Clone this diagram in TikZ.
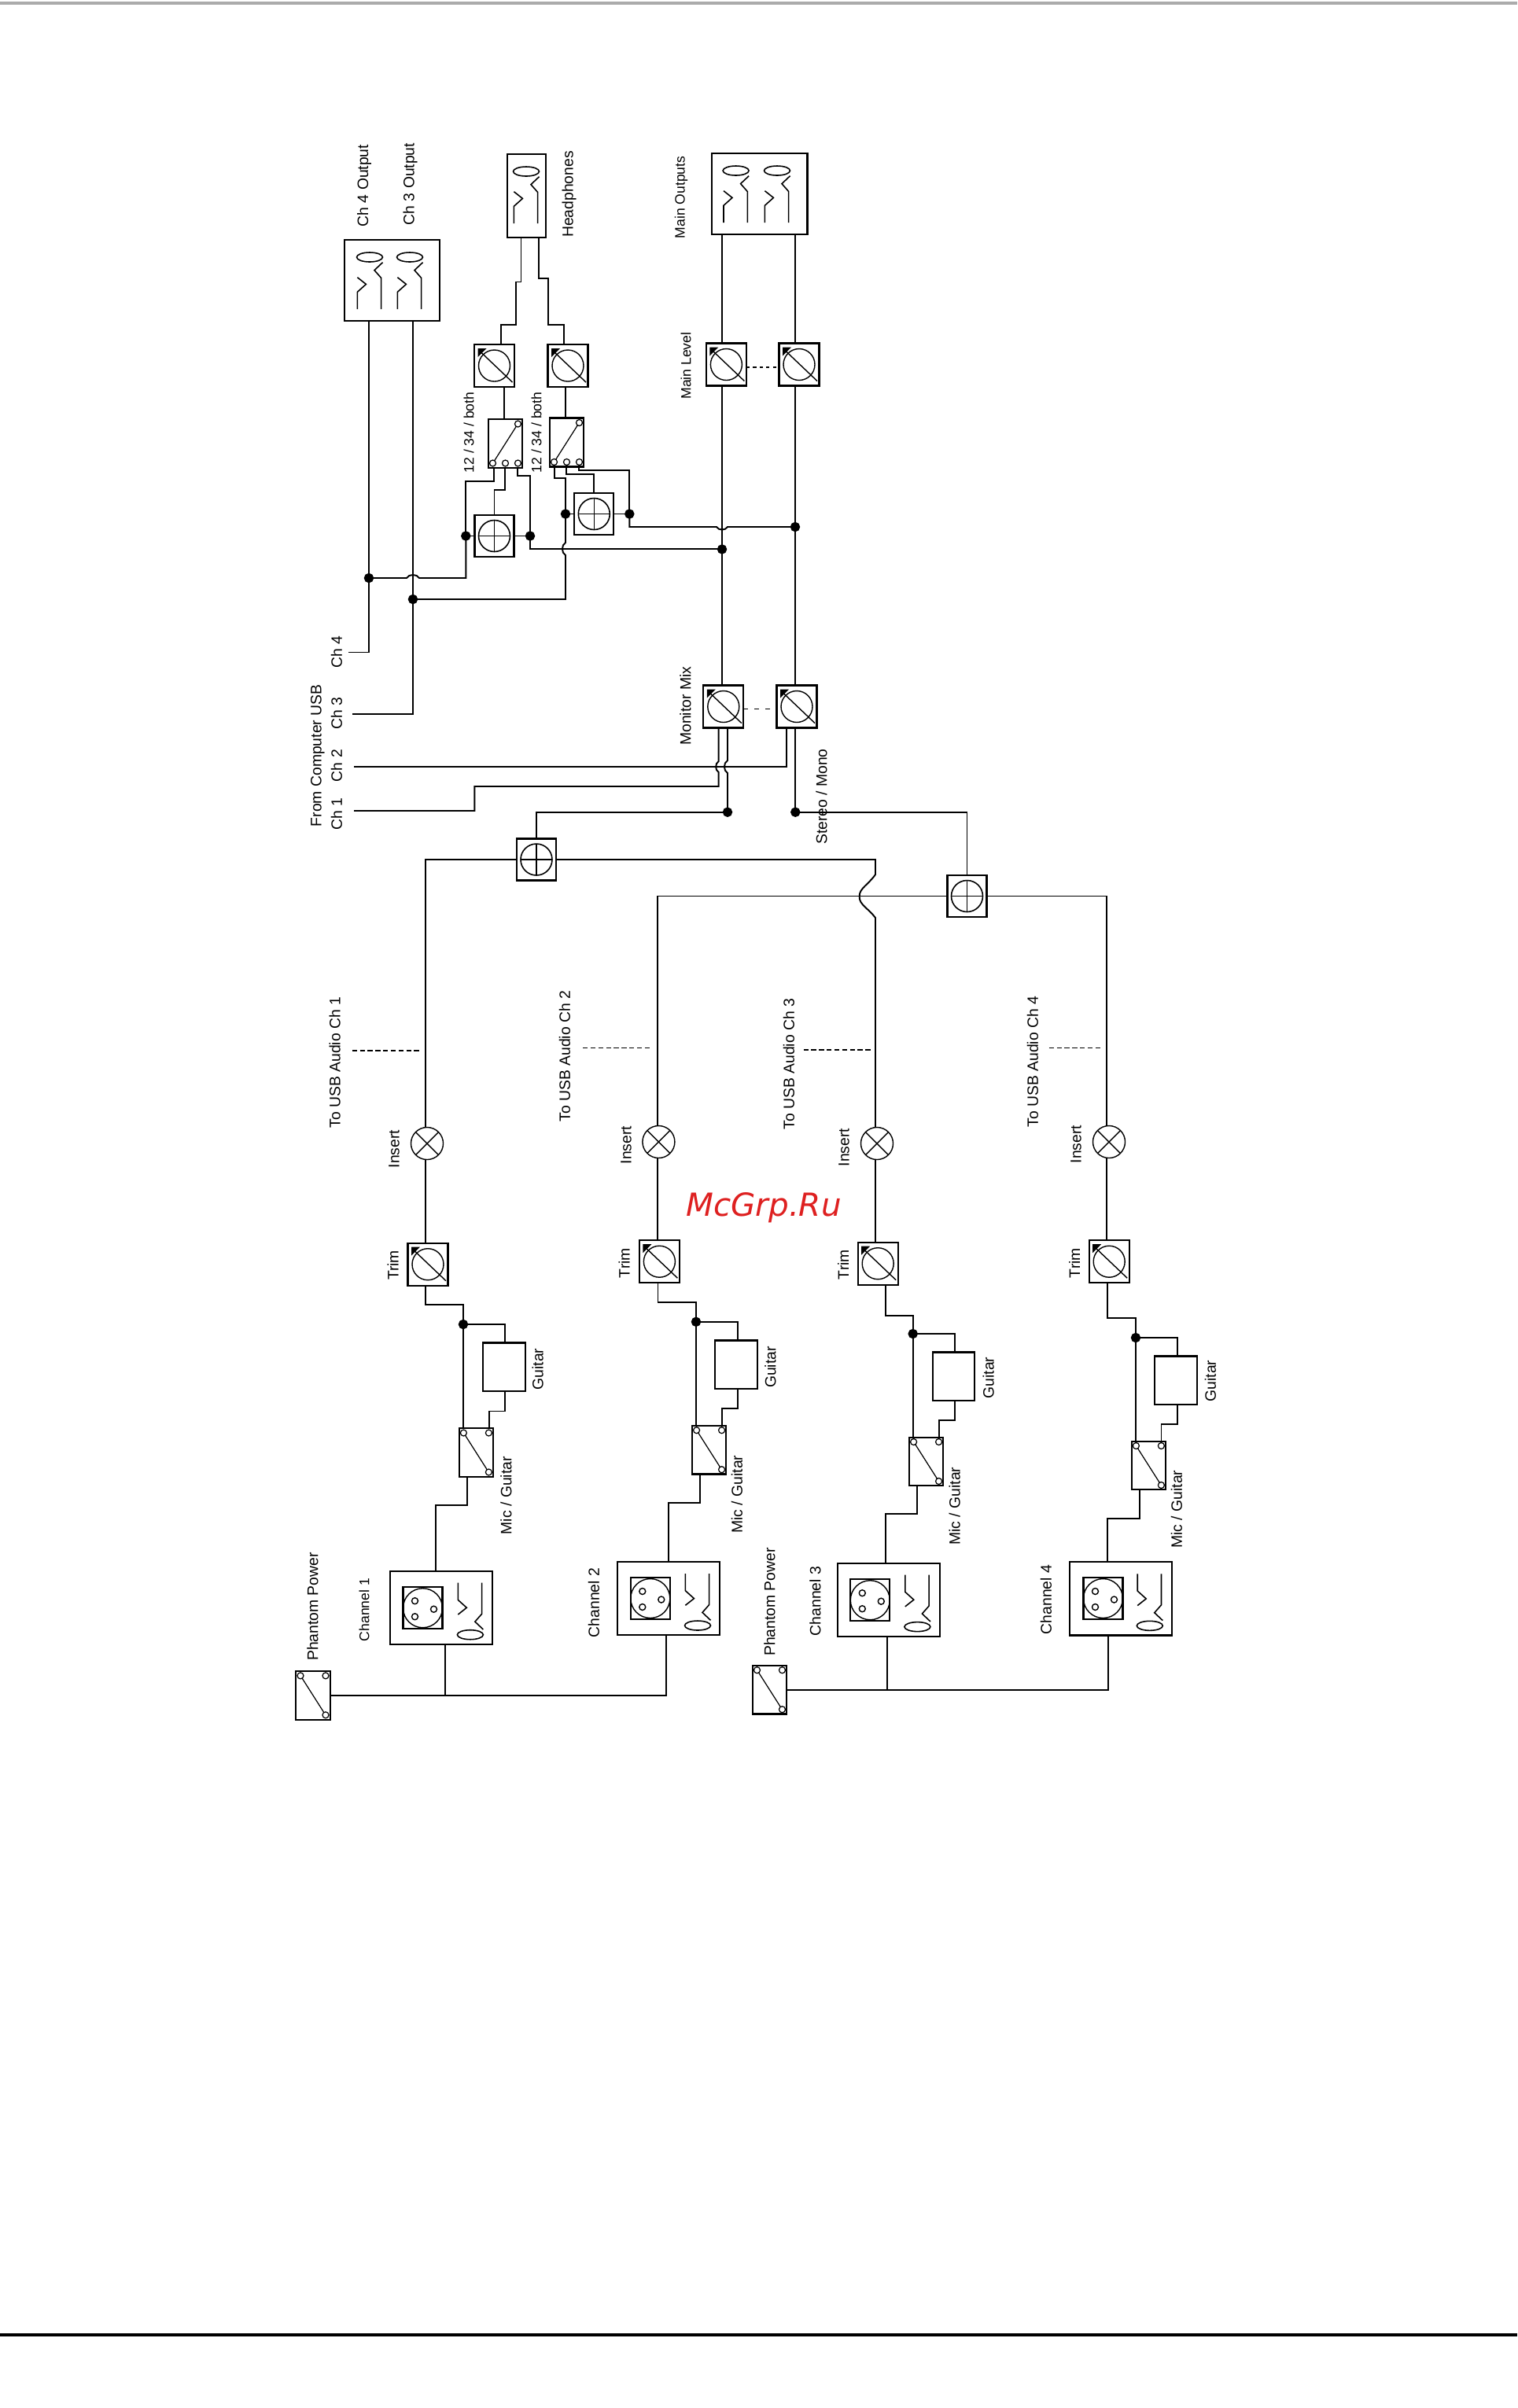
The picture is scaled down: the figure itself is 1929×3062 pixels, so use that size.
\documentclass[tikz,border=0pt]{standalone}
\usepackage{fontspec}
\setmainfont{Liberation Sans}
\newfontfamily\markfont{DejaVu Sans}
\usepackage{xcolor}
\usepackage{tikz}
\definecolor{markred}{HTML}{DE2020}
\tikzset{
  wire/.style={line width=.55pt},
  tap/.style={line width=.4pt, dash pattern=on 1.8pt off 1pt},
  gang/.style={line width=.5pt, dash pattern=on 1.2pt off 1.2pt},
  sparse/.style={line width=.35pt, dash pattern=on 1.5pt off 2.5pt},
  box/.style={draw, line width=.6pt, inner sep=0pt, outer sep=0pt},
  junction/.style={circle, fill=black, draw=black, inner sep=0pt, outer sep=0pt, minimum size=.11cm},
  lbl/.style={rotate=90, inner sep=0pt, font=\fontsize{5.5pt}{6pt}\selectfont},
  lblsm/.style={lbl, font=\fontsize{5pt}{6pt}\selectfont},
  knobbox/.style={box, minimum width=.51cm, minimum height=.54cm, path picture={
    \begin{scope}[shift={(path picture bounding box.center)}, line width=.4pt]
      \draw (0,0) circle[radius=20];
      \draw (-19,-19) -- (23,21);
      \fill (-21,-22) -- (-10,-22) -- (-21,-11) -- cycle;
    \end{scope}}},
  sumbox/.style={box, minimum width=.5cm, minimum height=.53cm, path picture={
    \begin{scope}[shift={(path picture bounding box.center)}, line width=.45pt]
      \draw (0,0) circle[radius=20];
      \draw (-20,0) -- (20,0) (0,-20) -- (0,20);
    \end{scope}}},
  swin/.style={box, minimum width=.436cm, minimum height=.615cm, path picture={
    \begin{scope}[shift={(path picture bounding box.center)}, line width=.35pt]
      \draw (-16,-25) circle[radius=4] (16,-25) circle[radius=4] (16,25) circle[radius=4];
      \draw (-14,-22) -- (14,22);
    \end{scope}}},
  swout/.style={box, minimum width=.436cm, minimum height=.62cm, path picture={
    \begin{scope}[shift={(path picture bounding box.center)}, line width=.35pt]
      \draw (-16,25) circle[radius=4] (0,25) circle[radius=4] (16,25) circle[radius=4] (16,-25) circle[radius=4];
      \draw (14,-22) -- (-14,22);
    \end{scope}}},
  xlr/.style={box, minimum width=.5cm, minimum height=.53cm, path picture={
    \begin{scope}[shift={(path picture bounding box.center)}, line width=.4pt]
      \draw (0,0) circle[radius=25];
      \draw (-10,-9) circle[radius=4] (14,1.5) circle[radius=4] (-10,11) circle[radius=4];
    \end{scope}}},
  insertmark/.style={draw, circle, line width=.4pt, inner sep=0pt, outer sep=0pt, minimum size=.41cm, path picture={
    \draw[line width=.4pt] (path picture bounding box.north west) -- (path picture bounding box.south east)
      (path picture bounding box.north east) -- (path picture bounding box.south west);}},
  jack/.pic={
    \draw[line width=.45pt] (0,0) ellipse[x radius=16.5, y radius=6];
    \draw[line width=.45pt] (16.5,6.7) -- (6,16.6) -- (14.7,26.5) -- (14.7,66);
    \draw[line width=.45pt] (-15.6,25.7) -- (-4.6,34.4) -- (-15.6,44.3) -- (-15.6,66);
  }
}
\begin{document}
\begin{tikzpicture}[x=0.01cm,y=-0.01cm]
\useasboundingbox (0,0) rectangle (1929,3062);
\coordinate (ruletopa) at (0,4);
\coordinate (ruletopb) at (1929,4);
\coordinate (rulebota) at (0,2969);
\coordinate (rulebotb) at (1929,2969);
\draw[line width=1.1pt, black!33] (ruletopa) -- (ruletopb);
\draw[line width=1.15pt] (rulebota) -- (rulebotb);

\node[box, minimum width=1.21cm, minimum height=1.03cm] (outbox) at (498.5,356.5) {};
\node[box, minimum width=.485cm, minimum height=1.06cm] (hpbox) at (669.7,249) {};
\node[box, minimum width=1.215cm, minimum height=1.03cm] (mainbox) at (965.7,246.5) {};
\pic at (470,327) {jack};
\pic at (521,327) {jack};
\pic at (669,218) {jack};
\pic at (935.6,217) {jack};
\pic at (988,217) {jack};

\node[knobbox] (knobhl) at (628.5,465) {};
\node[knobbox] (knobhr) at (722,465) {};
\node[knobbox] (knobml) at (923.4,463.5) {};
\node[knobbox] (knobmr) at (1016,463.5) {};
\node[knobbox] (knobmonl) at (919.8,898.5) {};
\node[knobbox] (knobmonr) at (1013,898.5) {};
\node[swout] (swha) at (642.5,564) {};
\node[swout] (swhb) at (720.5,562.5) {};
\node[sumbox] (sumha) at (628.5,681.5) {};
\node[sumbox] (sumhb) at (755.3,653.5) {};
\node[sumbox] (sumusba) at (682,1093) {};
\node[sumbox] (sumusbb) at (1229.5,1139.5) {};

\node[junction] (dchfour) at (469,735) {};
\node[junction] (dchthree) at (525,762) {};
\node[junction] (dswa) at (592.3,681.5) {};
\node[junction] (dswb) at (674,681.5) {};
\node[junction] (dswc) at (719,653.5) {};
\node[junction] (dswd) at (800.3,653.5) {};
\node[junction] (dmainl) at (918,698.4) {};
\node[junction] (dmainr) at (1011,670) {};
\node[junction] (dmonl) at (925,1032.7) {};
\node[junction] (dmonr) at (1011.3,1032.7) {};
\coordinate (usbfour) at (443,829.5);
\coordinate (usbthree) at (448,908);
\coordinate (usbtwo) at (450,975);
\coordinate (usbone) at (450,1031);

\node[insertmark] (insone) at (543,1454) {};
\node[insertmark] (instwo) at (837.4,1452) {};
\node[insertmark] (insthree) at (1115,1454) {};
\node[insertmark] (insfour) at (1410,1452) {};
\node[knobbox] (trimone) at (544,1607.7) {};
\node[knobbox] (trimtwo) at (838.4,1604.2) {};
\node[knobbox] (trimthree) at (1116.2,1606.7) {};
\node[knobbox] (trimfour) at (1410.2,1604.2) {};
\node[junction] (dgtone) at (589,1684) {};
\node[junction] (dgttwo) at (885,1680.8) {};
\node[junction] (dgtthree) at (1160.7,1696) {};
\node[junction] (dgtfour) at (1444,1701) {};
\node[box, minimum width=.538cm, minimum height=.617cm] (gtone) at (640.7,1738.3) {};
\node[box, minimum width=.538cm, minimum height=.617cm] (gttwo) at (936.3,1735.3) {};
\node[box, minimum width=.538cm, minimum height=.617cm] (gtthree) at (1212.5,1750.3) {};
\node[box, minimum width=.538cm, minimum height=.617cm] (gtfour) at (1495.3,1755.3) {};
\node[swin] (swone) at (605.4,1847) {};
\node[swin] (swtwo) at (901.6,1843.7) {};
\node[swin] (swthree) at (1177.6,1858.5) {};
\node[swin] (swfour) at (1460.4,1863.5) {};
\node[box, minimum width=1.3cm, minimum height=.935cm] (chone) at (561,2044.5) {};
\node[box, minimum width=1.3cm, minimum height=.935cm] (chtwo) at (850.2,2032.5) {};
\node[box, minimum width=1.3cm, minimum height=.935cm] (chthree) at (1129.7,2034.5) {};
\node[box, minimum width=1.3cm, minimum height=.935cm] (chfour) at (1425.3,2032.7) {};
\node[xlr] (xlrone) at (537.5,2044.7) {};
\node[xlr] (xlrtwo) at (826.8,2032.5) {};
\node[xlr] (xlrthree) at (1106.3,2034.7) {};
\node[xlr] (xlrfour) at (1402.5,2032.5) {};
\pic[yscale=-1] at (597.9,2078.7) {jack};
\pic[yscale=-1] at (887,2067) {jack};
\pic[yscale=-1] at (1166.4,2068.6) {jack};
\pic[yscale=-1] at (1461.8,2067.3) {jack};
\node[swin] (phone) at (398,2155.8) {};
\node[swin] (phtwo) at (978.5,2148.7) {};
\coordinate (tpone) at (566,2155.8);
\coordinate (tptwo) at (1128,2148.7);
\coordinate (tapone) at (447.7,1336);
\coordinate (taptwo) at (741,1332.6);
\coordinate (tapthree) at (1021.5,1335);
\coordinate (tapfour) at (1333.7,1332.6);

\draw[wire] (hpbox.south -| 662.5,0) |- (656,358.5) |- (637,413) -- (knobhl.north -| 637,0);
\draw[wire] (hpbox.south -| 685.4,0) |- (697,354) |- (717,413) -- (knobhr.north -| 717,0);
\draw[wire] (knobhl.south -| 641,0) -- (swha.north -| 641,0);
\draw[wire] (knobhr.south -| 719,0) -- (swhb.north -| 719,0);
\draw[wire] (outbox.south -| dchfour) -- (dchfour);
\draw[wire] (dchfour) |- (usbfour);
\draw[wire] (outbox.south -| dchthree) -- (dchthree);
\draw[wire] (dchthree) |- (usbthree);
\draw[wire] (dchfour) -- (517,735) to[bend left=60] (533,735) -| (dswa);
\draw[wire] (dswa) |- (627.7,611.7) -- (swha.south -| 627.7,0);
\draw[wire] (swha.south -| 642,0) |- (628.5,623.3) -- (sumha.north);
\draw[wire] (swha.south -| 657.7,0) |- (674,605) -- (dswb);
\draw[wire] (dswa) -- (sumha.west);
\draw[wire] (sumha.east) -- (dswb);
\draw[wire] (dswb) |- (dmainl);
\draw[wire] (swhb.south -| 705.3,0) |- (719,608.3) -- (dswc);
\draw[wire] (dswc) -- (719,690) to[bend right=60] (719,706) |- (dchthree);
\draw[wire] (dswc) -- (sumhb.west);
\draw[wire] (sumhb.east) -- (dswd);
\draw[wire] (swhb.south -| 720,0) |- (755.3,603.3) -- (sumhb.north);
\draw[wire] (swhb.south -| 735.7,0) |- (800.3,598.3) -- (dswd);
\draw[wire] (dswd) |- (911,670) to[bend right=60] (925,670) -- (dmainr);
\draw[wire] (mainbox.south -| dmainl) -- (knobml.north -| dmainl);
\draw[wire] (mainbox.south -| dmainr) -- (knobmr.north -| dmainr);
\draw[wire] (knobml.south -| dmainl) -- (dmainl);
\draw[wire] (dmainl) -- (knobmonl.north -| dmainl);
\draw[wire] (knobmr.south -| dmainr) -- (dmainr);
\draw[wire] (dmainr) -- (knobmonr.north -| dmainr);
\draw[gang] (knobml.east |- 0,467) -- (knobmr.west |- 0,467);
\draw[sparse] (knobmonl.east |- 0,901.3) -- (knobmonr.west |- 0,901.3);
\draw[wire] (usbtwo) -| (knobmonr.south -| 1000,0);
\draw[wire] (usbone) -| (603.4,1000) -- (913.7,1000) -- (913.7,982) to[bend left=60] (913.7,968) -- (knobmonl.south -| 913.7,0);
\draw[wire] (knobmonl.south -| 925,0) -- (925,967) to[bend right=60] (925,983) -- (dmonl);
\draw[wire] (knobmonr.south -| dmonr) -- (dmonr);
\draw[wire] (dmonl) -| (sumusba.north);
\draw[wire] (dmonr) -| (sumusbb.north);
\draw[wire] (sumusba.west) -| (insone.north -| 541,0);
\draw[wire] (sumusba.east) -| (1113,1112) .. controls (1104,1125) and (1092,1130) .. (1092.7,1140) .. controls (1092,1150) and (1104,1155) .. (1113,1167) -- (insthree.north -| 1113,0);
\draw[wire] (sumusbb.west) -| (instwo.north -| 835.6,0);
\draw[wire] (sumusbb.east) -| (insfour.north -| 1407.3,0);
\draw[tap] (tapone) -- ++(86,0);
\draw[tap] (taptwo) -- ++(88,0);
\draw[tap] (tapthree) -- ++(86,0);
\draw[tap] (tapfour) -- ++(66,0);

\draw[wire] (insone.south -| 541,0) -- (trimone.north -| 541,0);
\draw[wire] (trimone.south -| 540.7,0) |- (589,1659.4) -- (dgtone);
\draw[wire] (dgtone) -- (swone.north -| dgtone);
\draw[wire] (dgtone) -| (gtone.north -| 642.3,0);
\draw[wire] (gtone.south -| 642.3,0) |- (622.3,1794.5) -- (swone.north -| 622.3,0);
\draw[wire] (swone.south -| 594.2,0) |- (553.8,1914) -- (chone.north -| 553.8,0);

\draw[wire] (instwo.south -| 835.6,0) -- (trimtwo.north -| 835.6,0);
\draw[wire] (trimtwo.south -| 836.5,0) |- (885,1656) -- (dgttwo);
\draw[wire] (dgttwo) -- (swtwo.north -| dgttwo);
\draw[wire] (dgttwo) -| (gttwo.north -| 938,0);
\draw[wire] (gttwo.south -| 938,0) |- (918,1790.7) -- (swtwo.north -| 918,0);
\draw[wire] (swtwo.south -| 890,0) |- (849.6,1910.7) -- (chtwo.north -| 849.6,0);

\draw[wire] (insthree.south -| 1113,0) -- (trimthree.north -| 1113,0);
\draw[wire] (trimthree.south -| 1126,0) |- (1160.7,1672.8) -- (dgtthree);
\draw[wire] (dgtthree) -- (swthree.north -| dgtthree);
\draw[wire] (dgtthree) -| (gtthree.north -| 1214,0);
\draw[wire] (gtthree.south -| 1214,0) |- (1194,1805.9) -- (swthree.north -| 1194,0);
\draw[wire] (swthree.south -| 1166,0) |- (1126,1925.4) -- (chthree.north -| 1126,0);

\draw[wire] (insfour.south -| 1407.3,0) -- (trimfour.north -| 1407.3,0);
\draw[wire] (trimfour.south -| 1408.4,0) |- (1444,1675.8) -- (dgtfour);
\draw[wire] (dgtfour) -- (swfour.north -| dgtfour);
\draw[wire] (dgtfour) -| (gtfour.north -| 1497,0);
\draw[wire] (gtfour.south -| 1497,0) |- (1476.5,1811) -- (swfour.north -| 1476.5,0);
\draw[wire] (swfour.south -| 1448.8,0) |- (1408.4,1931) -- (chfour.north -| 1408.4,0);

\draw[wire] (phone.east) -| (chtwo.south -| 846.7,0);
\draw[wire] (chone.south -| tpone) -- (tpone);
\draw[wire] (phtwo.east) -| (chfour.south -| 1408.8,0);
\draw[wire] (chthree.south -| tptwo) -- (tptwo);

\node[lbl] (lbloutfour) at (463,236) {Ch 4 Output};
\node[lbl] (lbloutthree) at (521.5,234) {Ch 3 Output};
\node[lbl] (lblhp) at (723.6,247) {Headphones};
\node[lblsm] (lblmainout) at (866,251) {Main Outputs};
\node[lblsm] (lblmainlvl) at (872,465) {Main Level};
\node[lblsm] (lblsela) at (596,550) {12 / 34 / both};
\node[lblsm] (lblselb) at (682,550) {12 / 34 / both};
\node[lbl] (lblmon) at (871.5,897.8) {Monitor Mix};
\node[lbl] (lblstereo) at (1044.5,1013) {Stereo / Mono};
\node[lbl] (lblfrom) at (404,960.8) {From Computer USB};
\node[lbl] (lblusbfour) at (428,829) {Ch 4};
\node[lbl] (lblusbthree) at (428,907) {Ch 3};
\node[lbl] (lblusbtwo) at (428,973.6) {Ch 2};
\node[lbl] (lblusbone) at (428,1035) {Ch 1};
\node[lbl] (lbltoone) at (425.6,1351) {To USB Audio Ch 1};
\node[lbl] (lbltotwo) at (718,1343) {To USB Audio Ch 2};
\node[lbl] (lbltothree) at (1003,1353) {To USB Audio Ch 3};
\node[lbl] (lbltofour) at (1313,1350) {To USB Audio Ch 4};
\node[lbl] (lblinsone) at (501,1461) {Insert};
\node[lbl] (lblinstwo) at (796,1456) {Insert};
\node[lbl] (lblinsthree) at (1073,1459) {Insert};
\node[lbl] (lblinsfour) at (1368,1455) {Insert};
\node[lbl] (lbltrimone) at (499.5,1609) {Trim};
\node[lbl] (lbltrimtwo) at (793.5,1606) {Trim};
\node[lbl] (lbltrimthree) at (1072,1608) {Trim};
\node[lbl] (lbltrimfour) at (1366,1606) {Trim};
\node[lbl] (lblgtone) at (683.6,1741) {Guitar};
\node[lbl] (lblgttwo) at (979.5,1738.6) {Guitar};
\node[lbl] (lblgtthree) at (1256.7,1752) {Guitar};
\node[lbl] (lblgtfour) at (1539,1756) {Guitar};
\node[lbl] (lblmicone) at (643.5,1901.7) {Mic / Guitar};
\node[lbl] (lblmictwo) at (937,1900) {Mic / Guitar};
\node[lbl] (lblmicthree) at (1213.8,1915) {Mic / Guitar};
\node[lbl] (lblmicfour) at (1496,1919) {Mic / Guitar};
\node[lblsm] (lblchone) at (463,2047) {Channel 1};
\node[lbl] (lblchtwo) at (755,2038) {Channel 2};
\node[lbl] (lblchthree) at (1036.5,2036) {Channel 3};
\node[lbl] (lblchfour) at (1330,2034) {Channel 4};
\node[lbl] (lblphone) at (397.5,2043) {Phantom Power};
\node[lbl] (lblphtwo) at (978.5,2037) {Phantom Power};
\node[inner sep=0pt, text=markred, font=\fontsize{11.5pt}{12pt}\markfont\itshape] (mcgrp) at (971,1536) {McGrp.Ru};
\end{tikzpicture}
\end{document}
